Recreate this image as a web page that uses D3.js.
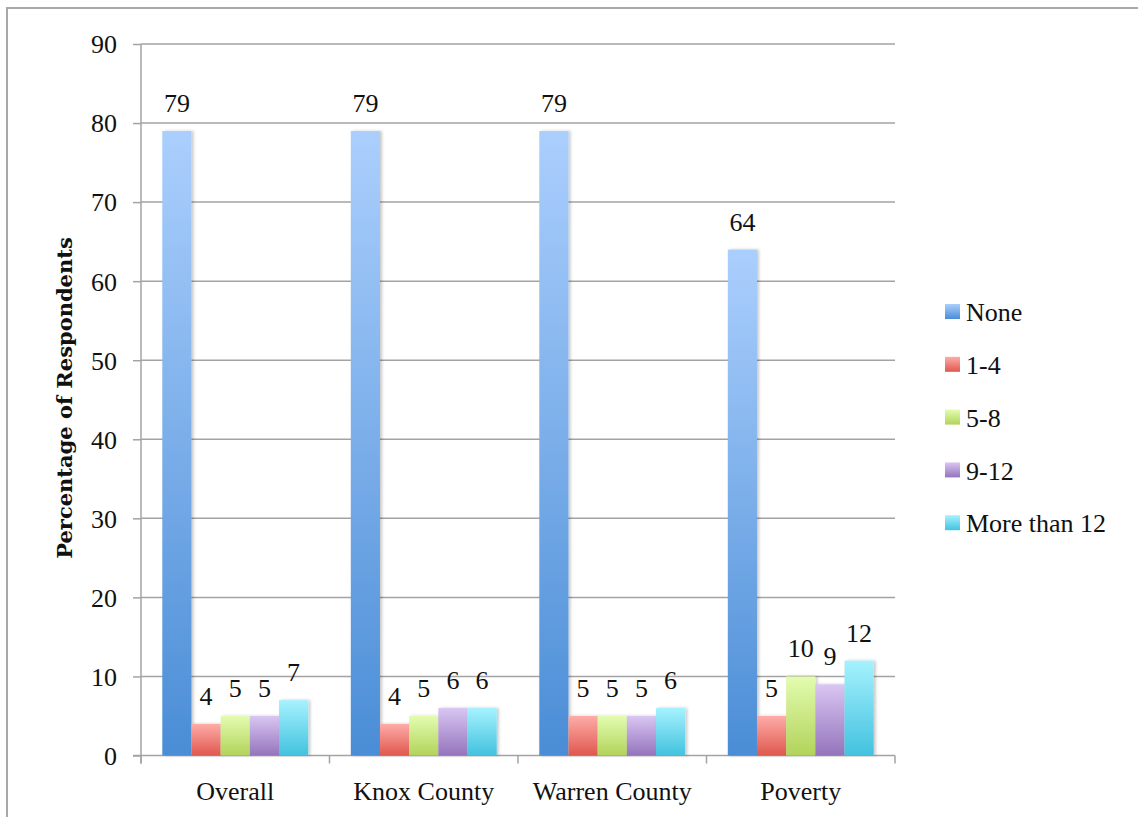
<!DOCTYPE html>
<html>
<head>
<meta charset="utf-8">
<script src="https://cdn.jsdelivr.net/npm/d3@7"></script>
<style>
  html, body { margin: 0; padding: 0; background: #fff; }
  svg { display: block; }
  text { font-family: "Liberation Serif", "Times New Roman", serif; fill: #111; }
</style>
</head>
<body>
<svg id="chart" width="1138" height="817"></svg>
<script>
// Survey groups along the x axis
const categories = ["Overall", "Knox County", "Warren County", "Poverty"];
// Answer buckets (one bar per bucket in each group)
const series = ["None", "1-4", "5-8", "9-12", "More than 12"];
// Percentage of respondents, one array per bucket, in category order
const noneValues = [79, 79, 79, 64];
const oneToFourValues = [4, 4, 5, 5];
const fiveToEightValues = [5, 5, 5, 10];
const nineToTwelveValues = [5, 6, 5, 9];
const moreThanTwelveValues = [7, 6, 6, 12];
const yTicks = [0, 10, 20, 30, 40, 50, 60, 70, 80, 90];
const yTitle = "Percentage of Respondents";

const seriesValues = [noneValues, oneToFourValues, fiveToEightValues, nineToTwelveValues, moreThanTwelveValues];
// top / bottom gradient stops for each bucket
const seriesColors = [
  ["#abcffd", "#4a8dd6"],
  ["#feaca8", "#df584e"],
  ["#e3fcb0", "#b2d35a"],
  ["#d9c6f3", "#9474bc"],
  ["#a6f2fe", "#42c2df"]
];

const svg = d3.select("#chart");
const gridColor = "#a3a3a3";

const plot = { left: 141, right: 895, top: 44, bottom: 755.5 };

const y = d3.scaleLinear().domain([0, 90]).range([plot.bottom, plot.top]);
const x0 = d3.scaleBand().domain(categories).range([plot.left, plot.right]).padding(0);
const x1 = d3.scaleBand().domain(series).range([0, x0.bandwidth()]).paddingInner(0).paddingOuter(0.73);

const defs = svg.append("defs");
seriesColors.forEach((c, i) => {
  const g = defs.append("linearGradient")
    .attr("id", "grad" + i)
    .attr("x1", 0).attr("y1", 0).attr("x2", 0).attr("y2", 1);
  g.append("stop").attr("offset", "0%").attr("stop-color", c[0]);
  g.append("stop").attr("offset", "100%").attr("stop-color", c[1]);
});
const shadow = defs.append("filter").attr("id", "barShadow")
  .attr("x", "-20%").attr("y", "-5%").attr("width", "150%").attr("height", "110%");
shadow.append("feDropShadow").attr("dx", 2).attr("dy", 0).attr("stdDeviation", 1.5)
  .attr("flood-color", "#000").attr("flood-opacity", 0.22);

// outer frame (top and left edges)
svg.append("path")
  .attr("d", "M7,817 V8 H1138")
  .attr("fill", "none").attr("stroke", "#a8a8a8").attr("stroke-width", 2);

// horizontal gridlines
svg.append("g").selectAll("line")
  .data(yTicks.filter(t => t > 0))
  .join("line")
  .attr("x1", plot.left).attr("x2", plot.right)
  .attr("y1", d => y(d)).attr("y2", d => y(d))
  .attr("stroke", gridColor).attr("stroke-width", 1.5);

// y axis
const yAxis = svg.append("g")
  .attr("transform", `translate(${plot.left},0)`)
  .call(d3.axisLeft(y).tickValues(yTicks).tickSize(8).tickPadding(16).tickSizeOuter(0));
yAxis.select(".domain").attr("stroke", gridColor).attr("stroke-width", 1.5)
  .attr("d", `M0,${plot.top}V${plot.bottom + 8}`);
yAxis.selectAll(".tick line").attr("stroke", gridColor).attr("stroke-width", 1.5);
yAxis.selectAll(".tick text")
  .style("font-family", "'Liberation Serif', serif")
  .style("font-size", "26px").attr("fill", "#111").attr("dy", "0.34em");

// x axis baseline and category separators
const xAxis = svg.append("g");
xAxis.append("line")
  .attr("x1", plot.left - 8).attr("x2", plot.right)
  .attr("y1", plot.bottom).attr("y2", plot.bottom)
  .attr("stroke", gridColor).attr("stroke-width", 1.5);
const boundaries = categories.map(c => x0(c)).concat([x0(categories[categories.length - 1]) + x0.bandwidth()]);
xAxis.selectAll("line.sep")
  .data(boundaries)
  .join("line").attr("class", "sep")
  .attr("x1", d => d).attr("x2", d => d)
  .attr("y1", plot.bottom).attr("y2", plot.bottom + 8)
  .attr("stroke", gridColor).attr("stroke-width", 1.5);
xAxis.selectAll("text")
  .data(categories)
  .join("text")
  .attr("x", d => x0(d) + x0.bandwidth() / 2)
  .attr("y", 800)
  .attr("text-anchor", "middle")
  .style("font-size", "26px")
  .text(d => d);

// bars
const rows = [];
categories.forEach((c, ci) => {
  series.forEach((s, si) => rows.push({ cat: c, s, si, v: seriesValues[si][ci] }));
});

const bars = svg.append("g");
bars.selectAll("rect")
  .data(rows)
  .join("rect")
  .attr("x", d => x0(d.cat) + x1(d.s))
  .attr("y", d => y(d.v))
  .attr("width", x1.bandwidth())
  .attr("height", d => y(0) - y(d.v))
  .attr("fill", d => `url(#grad${d.si})`)
  .attr("filter", "url(#barShadow)");

// value labels
svg.append("g").selectAll("text")
  .data(rows)
  .join("text")
  .attr("x", d => x0(d.cat) + x1(d.s) + x1.bandwidth() / 2)
  .attr("y", d => y(d.v) - 19)
  .attr("text-anchor", "middle")
  .style("font-size", "26px")
  .text(d => d.v);

// y axis title
svg.append("text")
  .attr("transform", `translate(72,398) rotate(-90)`)
  .attr("text-anchor", "middle")
  .style("font-family", "'DejaVu Serif', serif")
  .style("font-weight", "bold")
  .style("font-size", "21px")
  .text(yTitle);

// legend
const legend = svg.append("g").attr("transform", "translate(945,312)");
const item = legend.selectAll("g")
  .data(series)
  .join("g")
  .attr("transform", (d, i) => `translate(0,${i * 52.8})`);
item.append("rect")
  .attr("x", 0).attr("y", -8)
  .attr("width", 15).attr("height", 15)
  .attr("fill", (d, i) => `url(#grad${i})`);
item.append("text")
  .attr("x", 21).attr("y", 0).attr("dy", "0.35em")
  .style("font-size", "26px")
  .text(d => d);
</script>
</body>
</html>
